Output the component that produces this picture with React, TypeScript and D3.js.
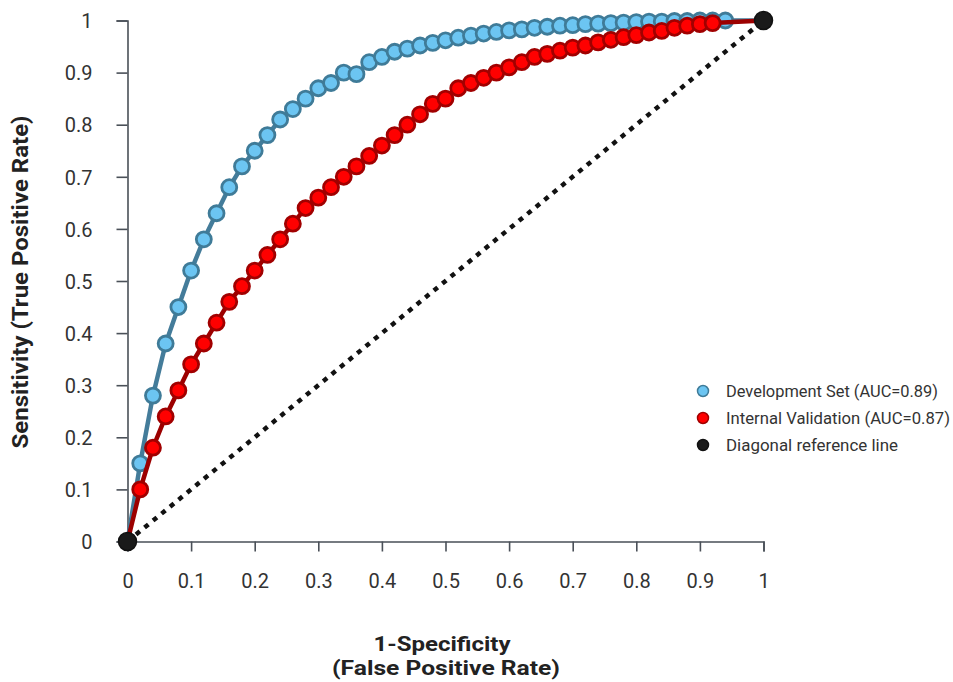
import React, { useEffect, useRef } from "react";
import * as d3 from "d3";

// False positive rate (x) and sensitivity (y)
const devFpr = [
  0.02, 0.04, 0.06, 0.08, 0.1, 0.12, 0.14, 0.16, 0.18, 0.2,
  0.22, 0.24, 0.26, 0.28, 0.3, 0.32, 0.34, 0.36, 0.38, 0.4,
  0.42, 0.44, 0.46, 0.48, 0.5, 0.52, 0.54, 0.56, 0.58, 0.6,
  0.62, 0.64, 0.66, 0.68, 0.7, 0.72, 0.74, 0.76, 0.78, 0.8,
  0.82, 0.84, 0.86, 0.88, 0.9, 0.92, 0.94,
];
const devTpr = [
  0.15, 0.28, 0.38, 0.45, 0.52, 0.58, 0.63, 0.68, 0.72, 0.75,
  0.78, 0.81, 0.83, 0.85, 0.87, 0.88, 0.9, 0.897, 0.92, 0.93,
  0.94, 0.946, 0.952, 0.957, 0.962, 0.967, 0.971, 0.975, 0.978, 0.981,
  0.983, 0.986, 0.988, 0.99, 0.991, 0.993, 0.994, 0.995, 0.996, 0.997,
  0.998, 0.998, 0.999, 0.999, 1.0, 1.0, 1.0,
];
const valFpr = [
  0.02, 0.04, 0.06, 0.08, 0.1, 0.12, 0.14, 0.16, 0.18, 0.2,
  0.22, 0.24, 0.26, 0.28, 0.3, 0.32, 0.34, 0.36, 0.38, 0.4,
  0.42, 0.44, 0.46, 0.48, 0.5, 0.52, 0.54, 0.56, 0.58, 0.6,
  0.62, 0.64, 0.66, 0.68, 0.7, 0.72, 0.74, 0.76, 0.78, 0.8,
  0.82, 0.84, 0.86, 0.88, 0.9, 0.92,
];
const valTpr = [
  0.1, 0.18, 0.24, 0.29, 0.34, 0.38, 0.42, 0.46, 0.49, 0.52,
  0.55, 0.58, 0.61, 0.64, 0.66, 0.68, 0.7, 0.72, 0.74, 0.76,
  0.78, 0.8, 0.82, 0.84, 0.85, 0.87, 0.88, 0.89, 0.9, 0.91,
  0.92, 0.93, 0.936, 0.942, 0.948, 0.952, 0.958, 0.963, 0.968, 0.972,
  0.977, 0.98, 0.986, 0.99, 0.993, 0.995,
];
const diagonal = [0, 1];
const ticks = [0, 0.1, 0.2, 0.3, 0.4, 0.5, 0.6, 0.7, 0.8, 0.9, 1];
const legendLabels = [
  "Development Set (AUC=0.89)",
  "Internal Validation (AUC=0.87)",
  "Diagonal reference line",
];

const W = 953;
const H = 682;
const FONT = "Roboto, 'Noto Sans', sans-serif";

const App = () => {
  const svgRef = useRef<SVGSVGElement>(null);

  useEffect(() => {
    const svg = d3.select(svgRef.current);
    svg.selectAll("*").remove();

    const x = d3.scaleLinear().domain([0, 1]).range([127.5, 763.5]);
    const y = d3.scaleLinear().domain([0, 1]).range([541.5, 20.5]);
    const fmt = (d: any) => (d === 0 || d === 1 ? String(d) : d3.format(".1f")(d));

    // axes
    const xAxis = svg
      .append("g")
      .attr("transform", `translate(0,${y(0)})`)
      .call(d3.axisBottom(x).tickValues(ticks).tickFormat(fmt).tickSize(10).tickSizeOuter(10).tickPadding(22));
    const yAxis = svg
      .append("g")
      .attr("transform", `translate(${x(0)},0)`)
      .call(d3.axisLeft(y).tickValues(ticks).tickFormat(fmt).tickSize(11).tickSizeOuter(11).tickPadding(24));
    [xAxis, yAxis].forEach((g) => {
      g.selectAll("path, line").attr("stroke", "#4a5058").attr("stroke-width", 1.6);
      g.selectAll("text")
        .attr("fill", "#333")
        .attr("font-family", FONT)
        .attr("font-size", 20);
    });
    yAxis.selectAll("text").attr("dy", "0.36em");

    // axis titles
    svg
      .append("text")
      .attr("transform", `translate(28,${282}) rotate(-90)`)
      .attr("text-anchor", "middle")
      .attr("font-family", FONT)
      .attr("font-weight", 700)
      .attr("font-size", 22)
      .attr("fill", "#222")
      .attr("textLength", 333)
      .attr("lengthAdjust", "spacingAndGlyphs")
      .text("Sensitivity (True Positive Rate)");
    const xTitle = ["1-Specificity", "(False Positive Rate)"];
    const xTitleLen = [137, 228];
    xTitle.forEach((t, i) => {
      svg
        .append("text")
        .attr("x", i === 0 ? 442 : 446)
        .attr("y", 651 + i * 24)
        .attr("text-anchor", "middle")
        .attr("font-family", FONT)
        .attr("font-weight", 700)
        .attr("font-size", 20)
        .attr("fill", "#222")
        .attr("textLength", xTitleLen[i])
        .attr("lengthAdjust", "spacingAndGlyphs")
        .text(t);
    });

    // diagonal reference
    svg
      .append("line")
      .attr("x1", x(diagonal[0]))
      .attr("y1", y(diagonal[0]))
      .attr("x2", x(diagonal[1]))
      .attr("y2", y(diagonal[1]))
      .attr("stroke", "#111")
      .attr("stroke-width", 4.5)
      .attr("stroke-dasharray", "5,6");

    const series = [
      { fpr: devFpr, tpr: devTpr, line: "#447c9a", fill: "#6cc5f2", stroke: "#3f7b98" },
      { fpr: valFpr, tpr: valTpr, line: "#9c0000", fill: "#ff0000", stroke: "#a10000" },
    ];
    const lineGen = d3
      .line<[number, number]>()
      .x((d) => x(d[0]))
      .y((d) => y(d[1]));

    series.forEach((s) => {
      const pts: [number, number][] = s.fpr.map((f, i) => [f, s.tpr[i]]);
      svg
        .append("path")
        .datum([[diagonal[0], diagonal[0]] as [number, number], ...pts, [diagonal[1], diagonal[1]] as [number, number]])
        .attr("d", lineGen)
        .attr("fill", "none")
        .attr("stroke", s.line)
        .attr("stroke-width", 4.5);
      svg
        .append("g")
        .selectAll("circle")
        .data(pts)
        .enter()
        .append("circle")
        .attr("cx", (d) => x(d[0]))
        .attr("cy", (d) => y(d[1]))
        .attr("r", 7.5)
        .attr("fill", s.fill)
        .attr("stroke", s.stroke)
        .attr("stroke-width", 2.8);
    });

    // end points
    svg
      .append("g")
      .selectAll("circle")
      .data(diagonal)
      .enter()
      .append("circle")
      .attr("cx", (d) => x(d))
      .attr("cy", (d) => y(d))
      .attr("r", 9)
      .attr("fill", "#1a1a1a")
      .attr("stroke", "#111")
      .attr("stroke-width", 1.5);

    // legend
    const legendColors = [
      { fill: "#6cc5f2", stroke: "#3f7b98" },
      { fill: "#ff0000", stroke: "#a10000" },
      { fill: "#1a1a1a", stroke: "#111" },
    ];
    const legendLen = [212, 224, 172];
    const lg = svg.append("g");
    legendLabels.forEach((label, i) => {
      const cy = 391 + i * 27;
      lg.append("circle")
        .attr("cx", 703)
        .attr("cy", cy)
        .attr("r", 5.5)
        .attr("fill", legendColors[i].fill)
        .attr("stroke", legendColors[i].stroke)
        .attr("stroke-width", 1.5);
      lg.append("text")
        .attr("x", 726)
        .attr("y", cy)
        .attr("dy", "0.35em")
        .attr("font-family", FONT)
        .attr("font-size", 17)
        .attr("fill", "#333")
        .attr("textLength", legendLen[i])
        .attr("lengthAdjust", "spacingAndGlyphs")
        .text(label);
    });
  }, []);

  return (
    <svg
      ref={svgRef}
      width={W}
      height={H}
      style={{ position: "absolute", left: 0, top: 0, background: "#fff" }}
    />
  );
};

export default App;
